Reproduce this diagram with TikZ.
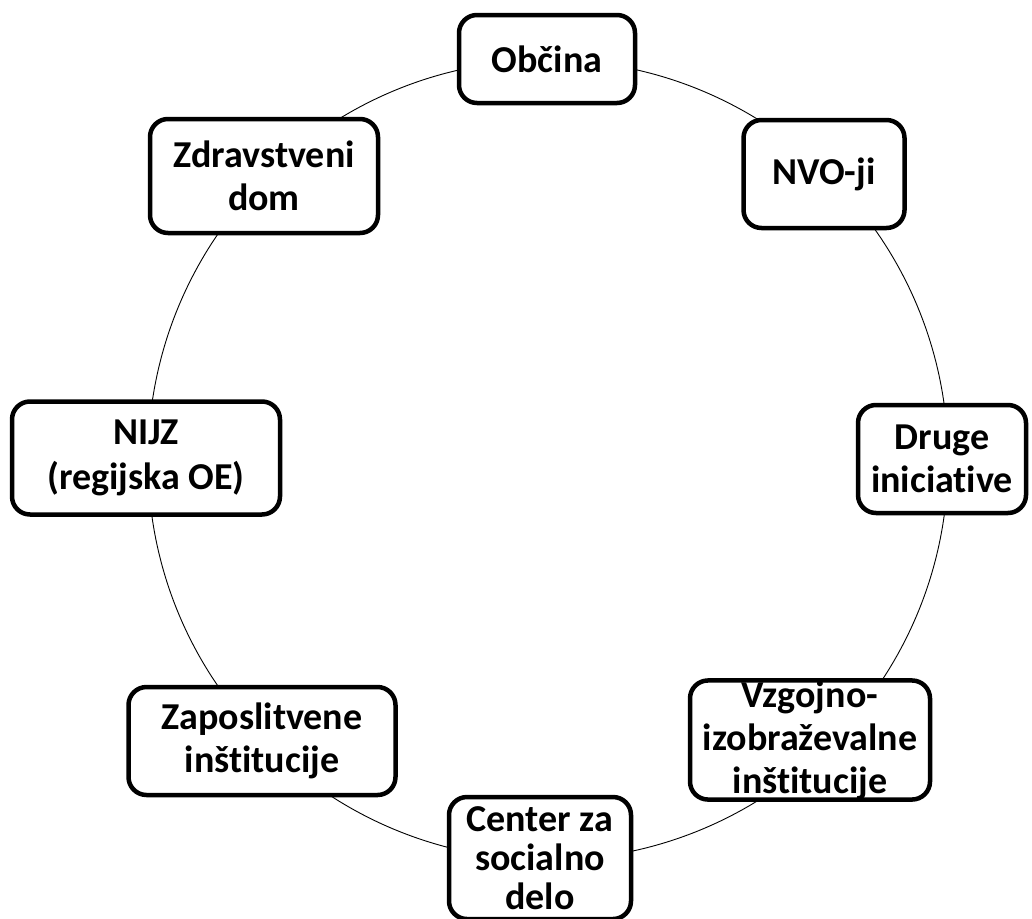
\documentclass[tikz,border=0pt]{standalone}
\usepackage{fontspec}
\setmainfont{Carlito}[Ligatures=NoCommon]
\begin{document}
\begin{tikzpicture}[x=1pt, y=-1pt,
  box/.style={draw, line width=4.5pt, rounded corners=18pt, fill=white, inner sep=0pt, align=center,
    font=\fontsize{38}{43}\selectfont\bfseries}]
\useasboundingbox (0,0) rectangle (1032,918); % page
\draw[line width=0.9pt] (548,460) circle [radius=400]; % ring
\node[box, minimum width=176, minimum height=88] (obcina) at (547,59) {Občina}; % top
\node[box, minimum width=161, minimum height=108] (nvo) at (824,174) {NVO-ji};
\node[box, minimum width=168, minimum height=108] (druge) at (942,459) {Druge\\iniciative};
\node[box, minimum width=240, minimum height=110] (vio) at (810,740) {Vzgojno-\\izobraževalne\\inštitucije};
\node[box, minimum width=182, minimum height=122, font=\fontsize{38}{39}\selectfont\bfseries] (csd) at (540,858) {Center za\\socialno\\delo}; % bottom
\node[box, minimum width=267, minimum height=108] (zaposl) at (262,741) {Zaposlitvene\\inštitucije};
\node[box, minimum width=268, minimum height=113] (nijz) at (146,458) {NIJZ\\[2pt](regijska OE)};
\node[box, minimum width=228, minimum height=114] (zd) at (264,176) {Zdravstveni\\dom};
\end{tikzpicture}
\end{document}
